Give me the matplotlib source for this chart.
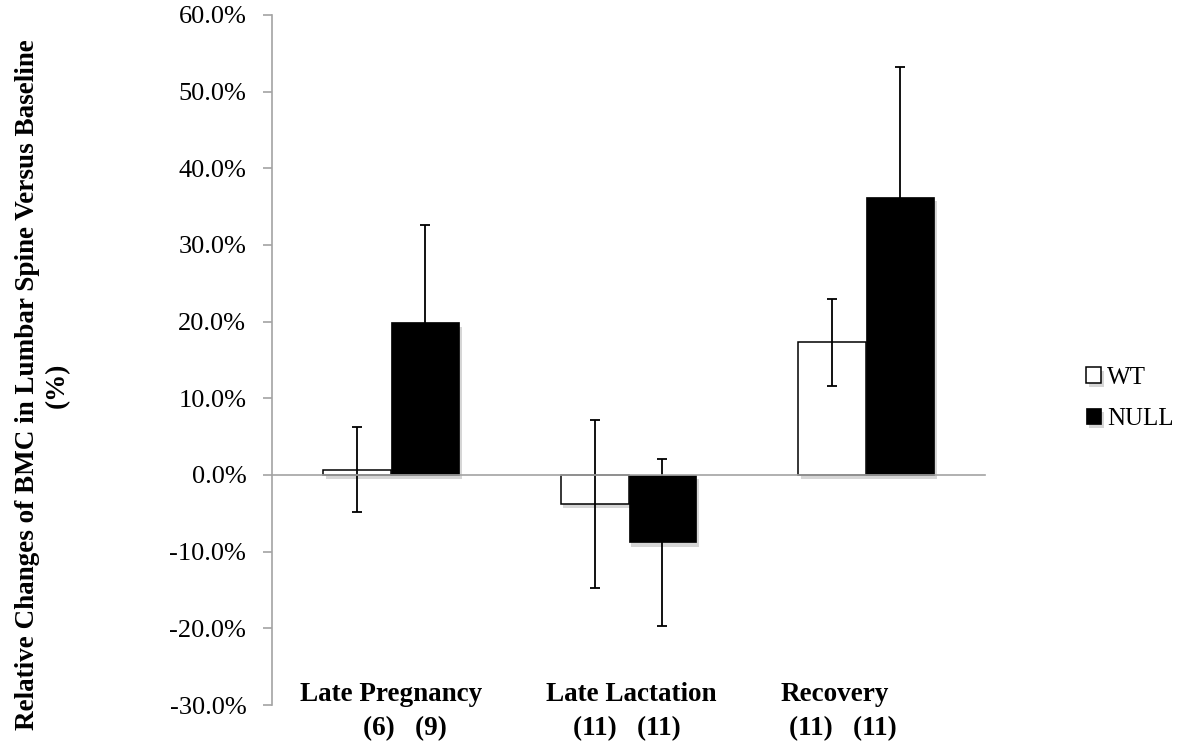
import matplotlib
matplotlib.use("Agg")
import matplotlib.pyplot as plt
import matplotlib.patheffects as pe
import numpy as np

# values in percent, read per timepoint
categories = ["Late Pregnancy", "Late Lactation", "Recovery"]
group_sizes = ["(6)   (9)", "(11)   (11)", "(11)   (11)"]
wt_mean = [0.7, -3.8, 17.3]
wt_err = [5.5, 11.0, 5.7]
null_mean = [19.9, -8.8, 36.3]
null_err = [12.7, 10.9, 16.9]
yticks = np.arange(-30, 61, 10)

ylabel = "Relative Changes of BMC in Lumbar Spine Versus Baseline\n(%)"

###
### Style
###
serif = "Liberation Serif"
axis_grey = "#a3a3a3"
bar_w = 0.286
# pixel offsets of the two label lines from each category centre
line1_dx = [0, 3, -31]
line2_dx = [14, -2, -23]

shadow = [pe.SimplePatchShadow(offset=(2, -3), shadow_rgbFace="0.55", alpha=0.35),
          pe.Normal()]

fig = plt.figure(figsize=(11.8, 7.47), dpi=100)
ax = fig.add_axes([272 / 1180, 42 / 747, 713 / 1180, 690 / 747])

x = np.arange(len(categories))
err_kw = dict(ecolor="black", elinewidth=1.3, capsize=3.8, capthick=1.3)

b_wt = ax.bar(x - bar_w / 2, wt_mean, bar_w, yerr=wt_err,
              color="white", edgecolor="black", linewidth=1.1,
              label="WT", error_kw=err_kw)
b_null = ax.bar(x + bar_w / 2, null_mean, bar_w, yerr=null_err,
                color="black", edgecolor="black", linewidth=0.5,
                label="NULL", error_kw=err_kw)
for patch in list(b_wt) + list(b_null):
    patch.set_path_effects(shadow)

ax.set_xlim(-0.5, len(categories) - 0.5)
ax.set_ylim(yticks[0], yticks[-1])
ax.set_yticks(yticks)
ax.set_yticklabels(["{:.1f}%".format(v) for v in yticks],
                   fontfamily=serif, fontsize=19)
ax.set_xticks([])

for side in ["top", "right"]:
    ax.spines[side].set_visible(False)
ax.spines["bottom"].set_position(("data", 0))
for side in ["left", "bottom"]:
    ax.spines[side].set_color(axis_grey)
    ax.spines[side].set_linewidth(1.2)
ax.tick_params(axis="y", direction="out", length=6.5, width=1.2,
               color=axis_grey, pad=12)

# category names with group sizes underneath
for i, (name, n) in enumerate(zip(categories, group_sizes)):
    ax.annotate(name, xy=(x[i], 0), xycoords=("data", "axes fraction"),
                xytext=(line1_dx[i], 4), textcoords="offset pixels",
                ha="center", va="baseline", fontfamily=serif,
                fontweight="bold", fontsize=19.5)
    ax.annotate(n, xy=(x[i], 0), xycoords=("data", "axes fraction"),
                xytext=(line2_dx[i], -30), textcoords="offset pixels",
                ha="center", va="baseline", fontfamily=serif,
                fontweight="bold", fontsize=19.5, annotation_clip=False)

fig.text(42 / 1180, 362 / 747, ylabel, rotation=90, ha="center", va="center",
         multialignment="center", fontfamily=serif, fontweight="bold",
         fontsize=19.5, linespacing=1.25)

fig.legend(handles=[b_wt, b_null], labels=["WT", "NULL"],
           loc="upper left", bbox_to_anchor=(1086 / 1180, 380 / 747),
           frameon=False, borderpad=0, borderaxespad=0,
           handlelength=0.6, handleheight=0.6, handletextpad=0.25,
           labelspacing=0.75, prop={"family": serif, "size": 18})

fig.savefig("out.png", dpi=100)
